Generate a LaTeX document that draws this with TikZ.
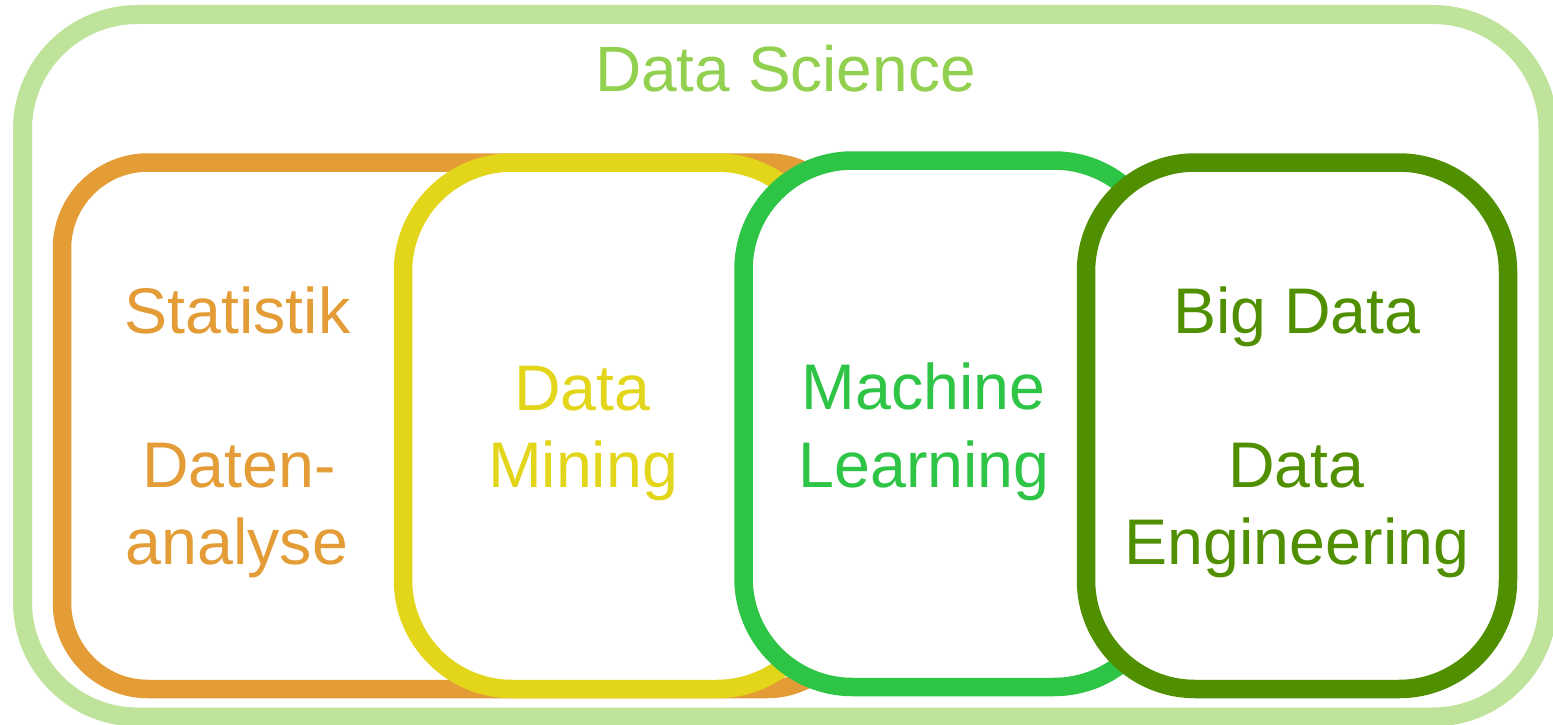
\documentclass[tikz,border=0pt]{standalone}
\usepackage{fontspec}
\setmainfont{Liberation Sans}
\definecolor{dsline}{HTML}{BFE39A}
\definecolor{dstext}{HTML}{92D050}
\definecolor{cstat}{HTML}{E39C36}
\definecolor{cmine}{HTML}{E3D61A}
\definecolor{cml}{HTML}{2EC446}
\definecolor{cbig}{HTML}{4F8F00}
\begin{document}
\begin{tikzpicture}[x=1pt,y=-1pt,
  box/.style={draw=#1, line width=18.5pt, fill=white, inner sep=0pt, outer sep=0pt, rectangle},
  lbl/.style={text=#1, font=\fontsize{64.5}{77}\selectfont, anchor=base, inner sep=0pt}]
\useasboundingbox (0,0) rectangle (1553,725);
% outer frame
\node[box=dsline, line width=19pt, rounded corners=115pt, minimum width=1525.5pt, minimum height=702.5pt] (ds) at (785.25,365.75) {};
% areas
\node[box=cstat, rounded corners=86pt, minimum width=791pt, minimum height=526.5pt] (stat) at (457.5,425.75) {};
\node[box=cmine, rounded corners=109pt, minimum width=423pt, minimum height=526.5pt] (mine) at (614.5,425.75) {};
\node[box=cml, rounded corners=109pt, minimum width=419.5pt, minimum height=526.5pt] (ml) at (953.25,423.75) {};
\node[box=cbig, rounded corners=109pt, minimum width=422pt, minimum height=526.5pt] (big) at (1297,425.75) {};
% labels
\node[lbl=dstext, font=\fontsize{64}{77}\selectfont] (tds) at (785.5,92) {Data Science};
\node[lbl=cstat] (t1a) at (237.5,333) {Statistik};
\node[lbl=cstat] (t1b) at (239,487) {Daten-};
\node[lbl=cstat] (t1c) at (237,564) {analyse};
\node[lbl=cmine] (t2a) at (582.5,410) {Data};
\node[lbl=cmine] (t2b) at (583,487) {Mining};
\node[lbl=cml] (t3a) at (923.5,409) {Machine};
\node[lbl=cml] (t3b) at (924,487) {Learning};
\node[lbl=cbig] (t4a) at (1297,333) {Big Data};
\node[lbl=cbig] (t4b) at (1296.5,487) {Data};
\node[lbl=cbig] (t4c) at (1297,564) {Engineering};
\end{tikzpicture}
\end{document}
